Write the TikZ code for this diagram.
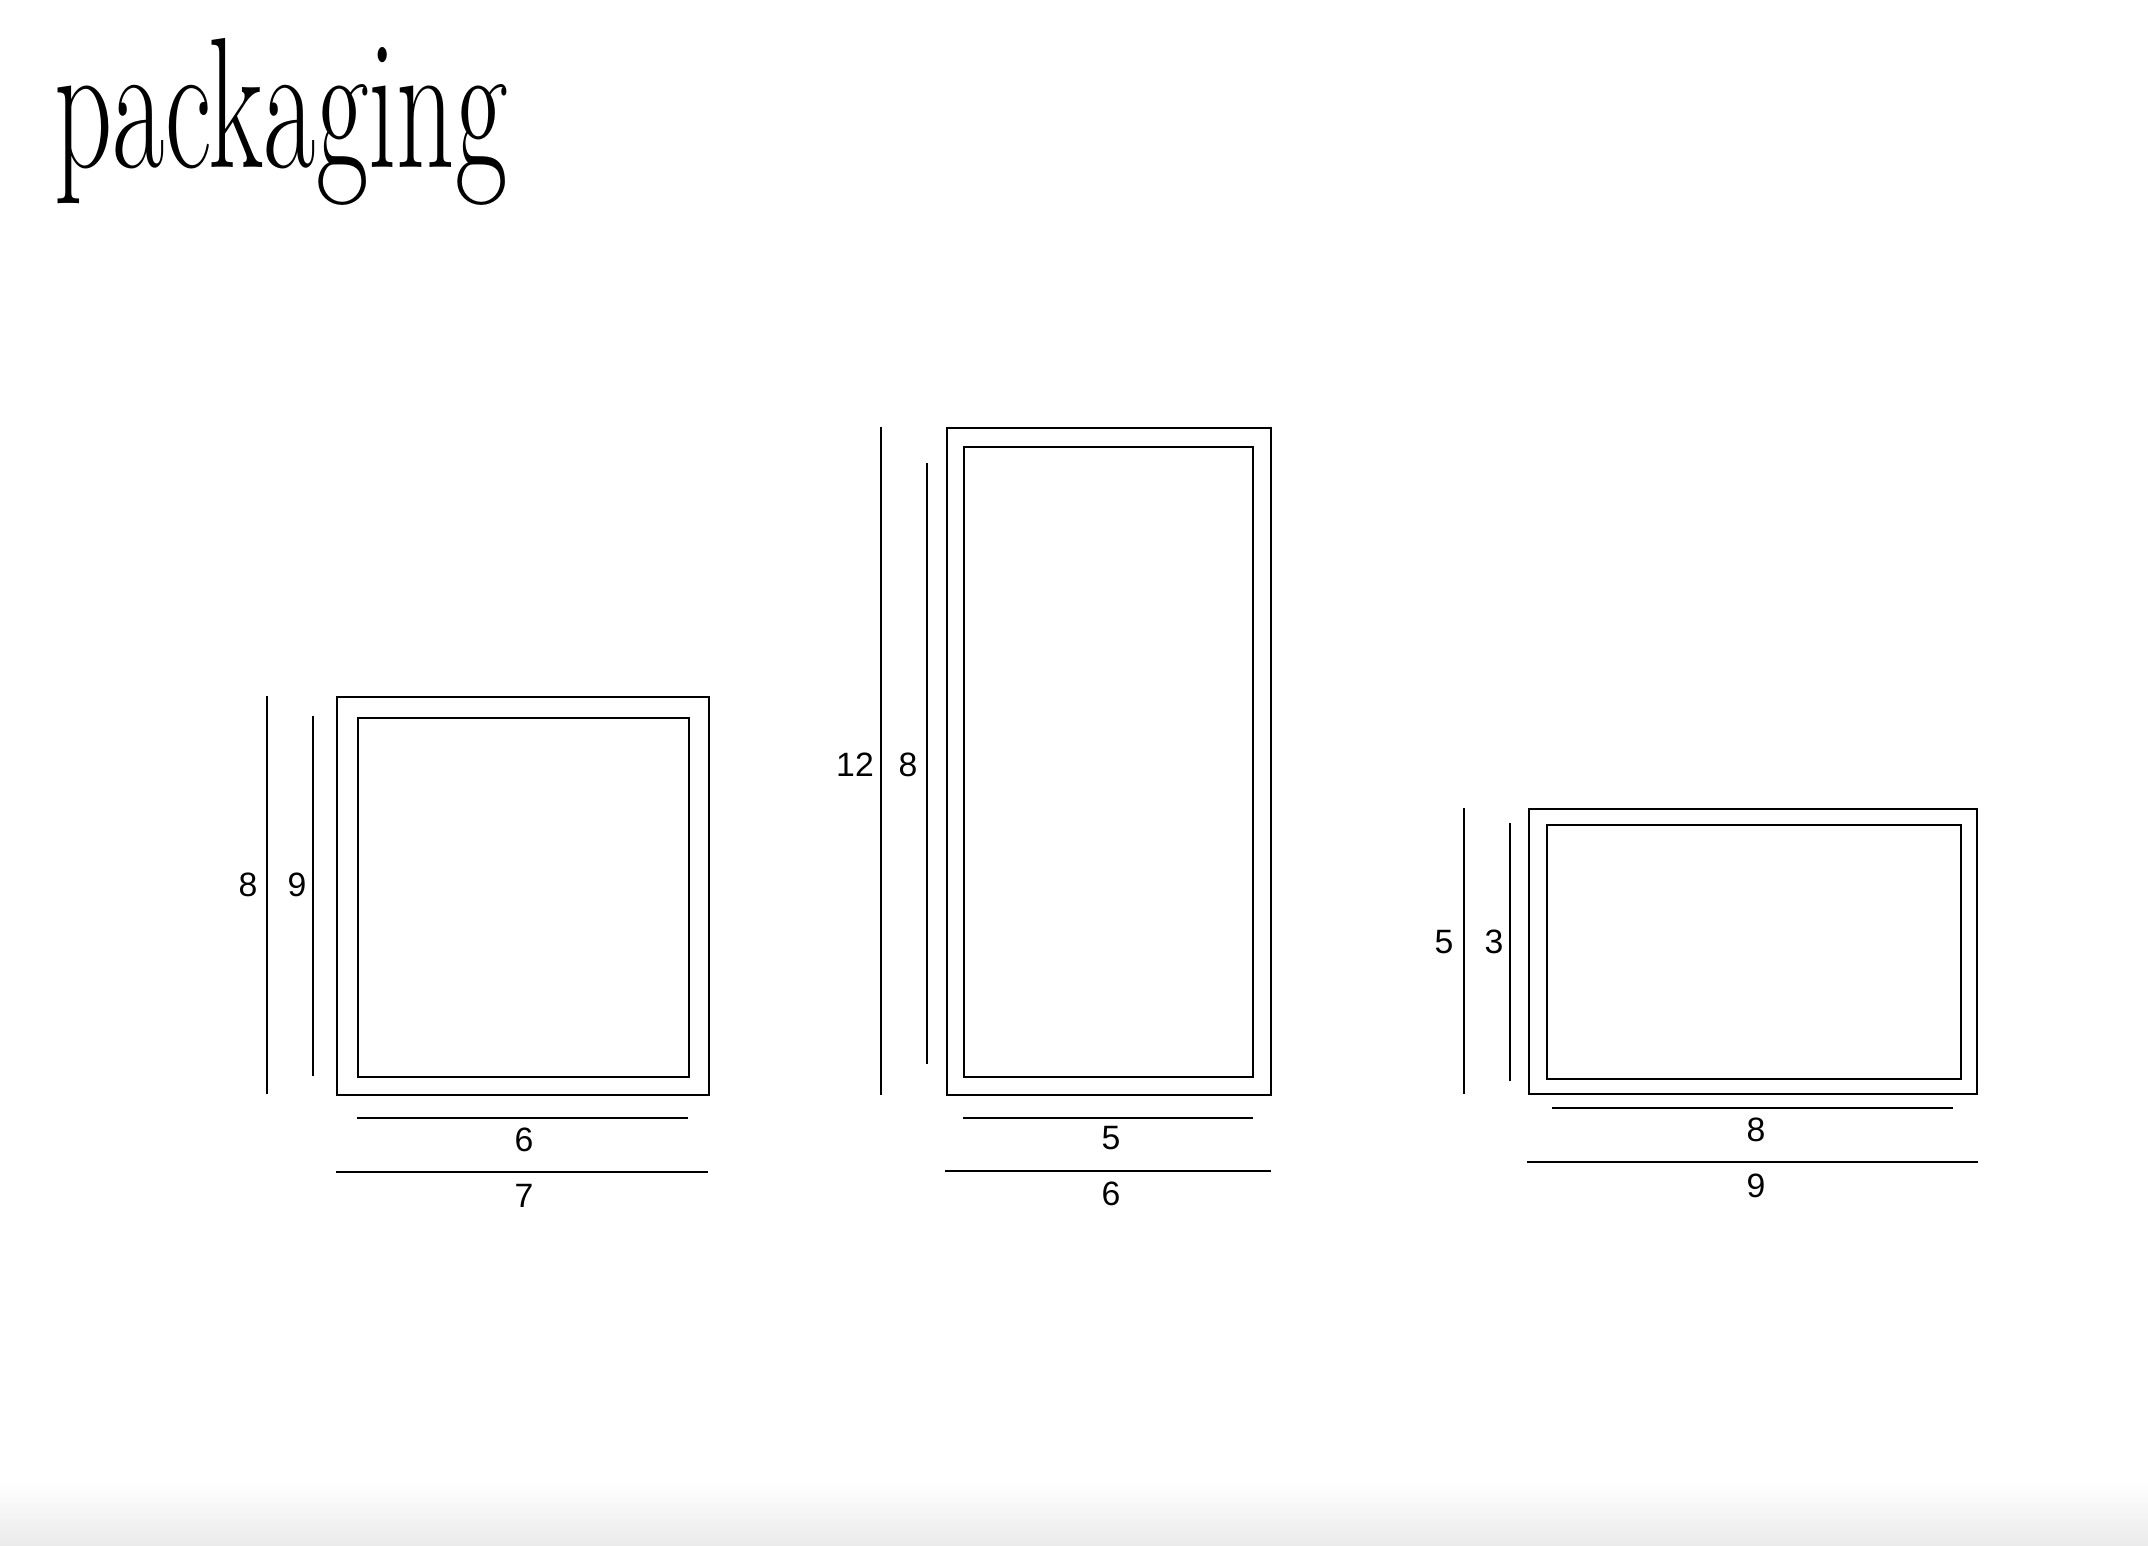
\documentclass[tikz,border=0pt]{standalone}
\usepackage{fontspec}
\newfontfamily\dimfont{Liberation Sans}
\usetikzlibrary{positioning}

\begin{document}
\begin{tikzpicture}[x=0.01cm, y=-0.01cm,
    box/.style={draw, line width=0.45pt, inner sep=0pt, anchor=north west},
    dimline/.style={line width=0.42pt},
    dimlabel/.style={font=\dimfont\fontsize{9.6}{11}\selectfont, inner sep=0pt}
]
    \useasboundingbox (0,0) rectangle (2148,1546);

    % Page shade
    \shade[top color=white, bottom color=black!8] (0,1480) rectangle (2148,1546);

    % Title
    \node[anchor=base west, inner sep=0pt] (title) at (54,168) {\scalebox{0.6}[0.98]{\fontsize{54}{60}\selectfont packaging}};

    % Small box
    \node[box, minimum width=3.72cm, minimum height=3.98cm] (smallout) at (336,696) {};
    \node[box, minimum width=3.31cm, minimum height=3.59cm] (smallin) at (357,717) {};
    \draw[dimline] (267,696) -- (267,1094);
    \draw[dimline] (313,716) -- (313,1076);
    \node[dimlabel] (smallh) at (248,885) {8};
    \node[dimlabel] (smallhi) at (297,885) {9};
    \draw[dimline] (357,1118) -- (688,1118);
    \draw[dimline] (336,1172) -- (708,1172);
    \node[dimlabel] (smallwi) at (524,1140) {6};
    \node[dimlabel] (smallw) at (524,1196) {7};

    % Tall box
    \node[box, minimum width=3.24cm, minimum height=6.67cm] (tallout) at (946,427) {};
    \node[box, minimum width=2.89cm, minimum height=6.30cm] (tallin) at (963,446) {};
    \draw[dimline] (881,427) -- (881,1095);
    \draw[dimline] (927,463) -- (927,1064);
    \node[dimlabel] (tallh) at (855,765) {12};
    \node[dimlabel] (tallhi) at (908,765) {8};
    \draw[dimline] (963,1118) -- (1253,1118);
    \draw[dimline] (945,1171) -- (1271,1171);
    \node[dimlabel] (tallwi) at (1111,1138) {5};
    \node[dimlabel] (tallw) at (1111,1194) {6};

    % Wide box
    \node[box, minimum width=4.48cm, minimum height=2.85cm] (wideout) at (1528,808) {};
    \node[box, minimum width=4.14cm, minimum height=2.54cm] (widein) at (1546,824) {};
    \draw[dimline] (1464,808) -- (1464,1094);
    \draw[dimline] (1510,823) -- (1510,1081);
    \node[dimlabel] (wideh) at (1444,942) {5};
    \node[dimlabel] (widehi) at (1494,942) {3};
    \draw[dimline] (1552,1108) -- (1953,1108);
    \draw[dimline] (1527,1162) -- (1978,1162);
    \node[dimlabel] (widewi) at (1756,1130) {8};
    \node[dimlabel] (widew) at (1756,1186) {9};
\end{tikzpicture}
\end{document}
